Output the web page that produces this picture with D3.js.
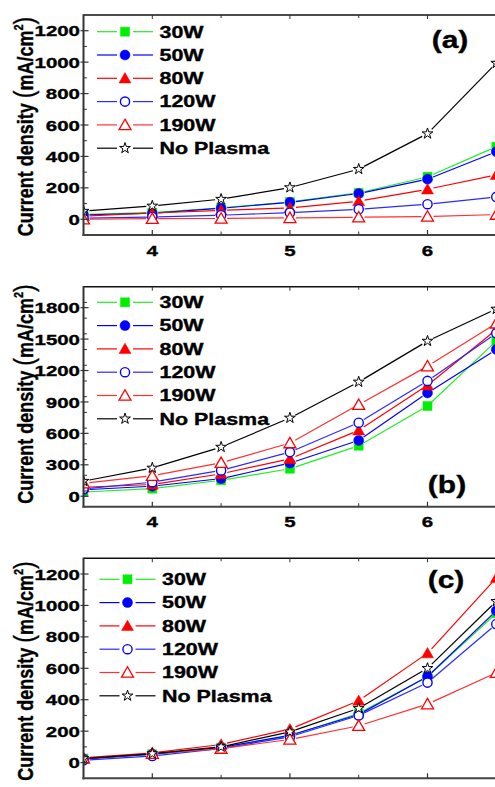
<!DOCTYPE html>
<html><head><meta charset="utf-8">
<script src="https://cdn.jsdelivr.net/npm/d3@7"></script>
<style>html,body{margin:0;padding:0;background:#fff;overflow:hidden}svg{display:block}</style>
</head><body>
<svg id="chart" width="495" height="787"></svg>
<script>
// ---- data ----
const xValues = [3.5, 4, 4.5, 5, 5.5, 6, 6.5];
const seriesNames = ["30W", "50W", "80W", "120W", "190W", "No Plasma"];
const xTickLabels = ["4", "5", "6"];
const panelLabels = ["(a)", "(b)", "(c)"];

const a30W = [30, 43, 72, 110, 168, 270, 462];
const a50W = [28, 38, 70, 108, 164, 255, 430];
const a80W = [20, 40, 57, 72, 115, 191, 283];
const a120W = [6, 15, 26, 42, 64, 96, 142];
const a190W = [0, 4, 5, 9, 13, 18, 30];
const aNoPlasma = [52, 85, 128, 202, 319, 545, 994];

const b30W = [40, 72, 152, 262, 482, 862, 1481];
const b50W = [61, 96, 168, 316, 533, 986, 1401];
const b80W = [86, 112, 214, 357, 629, 1059, 1590];
const b120W = [70, 134, 246, 421, 702, 1101, 1555];
const b190W = [124, 195, 319, 507, 874, 1241, 1650];
const bNoPlasma = [144, 270, 469, 747, 1091, 1481, 1787];

const c30W = [26, 53, 96, 170, 313, 547, 951];
const c50W = [23, 53, 96, 174, 306, 547, 966];
const c80W = [30, 62, 115, 213, 394, 696, 1175];
const c120W = [15, 42, 89, 164, 300, 509, 881];
const c190W = [26, 57, 89, 147, 234, 372, 572];
const cNoPlasma = [26, 57, 100, 196, 345, 600, 1026];

const yTicksAC = [0, 200, 400, 600, 800, 1000, 1200];
const yTicksB = [0, 300, 600, 900, 1200, 1500, 1800];

// ---- styles ----
const styles = [
  {line: "#22ee22", color: "#00ee00", shape: "square", fill: true},
  {line: "#0000ff", color: "#0000ff", shape: "circle", fill: true},
  {line: "#ff0000", color: "#ff0000", shape: "triangle", fill: true},
  {line: "#2a2aff", color: "#0000ff", shape: "circle", fill: false},
  {line: "#ff3030", color: "#ff0000", shape: "triangle", fill: false},
  {line: "#000000", color: "#000000", shape: "star", fill: false}
];

const panels = [
  {top: 15, bottom: 235, domain: [-100, 1300], ticks: yTicksAC, minor: 100,
   data: [a30W, a50W, a80W, a120W, a190W, aNoPlasma], label: panelLabels[0],
   labelPos: [450, 48], legendTop: 31.7, legendX: 97, titleC: 126.5},
  {top: 286.7, bottom: 506.7, domain: [-100, 2000], ticks: yTicksB, minor: 150,
   data: [b30W, b50W, b80W, b120W, b190W, bNoPlasma], label: panelLabels[1],
   labelPos: [447, 493], legendTop: 302.3, legendX: 97, titleC: 394},
  {top: 558.3, bottom: 778.3, domain: [-100, 1300], ticks: yTicksAC, minor: 100,
   data: [c30W, c50W, c80W, c120W, c190W, cNoPlasma], label: panelLabels[2],
   labelPos: [446, 588], legendTop: 579.3, legendX: 99.5, titleC: 671}
];

const svg = d3.select("#chart");
const LEFT = 83.5, RIGHT = 496.3;
const FONT = "'Liberation Sans', Arial, sans-serif";
const x = d3.scaleLinear().domain([3.5, 6.5]).range([LEFT, RIGHT]);

function markerPath(shape) {
  if (shape === "square") return d3.symbol(d3.symbolSquare, 81)();
  if (shape === "triangle") return d3.symbol(d3.symbolTriangle, 62)();
  if (shape === "star") return d3.symbol(d3.symbolStar, 36)();
  return null;
}
function drawMarker(g, st, cx, cy) {
  if (st.shape === "circle") {
    g.append("circle").attr("cx", cx).attr("cy", cy)
      .attr("r", st.fill ? 5 : 4.6)
      .attr("fill", st.fill ? st.color : "#fff")
      .attr("stroke", st.color).attr("stroke-width", st.fill ? 0.5 : 1.4);
  } else {
    let tf = `translate(${cx},${cy})`;
    if (st.shape === "triangle") tf += " translate(0,1.2)";
    g.append("path").attr("d", markerPath(st.shape)).attr("transform", tf)
      .attr("fill", st.fill ? st.color : "#fff")
      .attr("stroke", st.color)
      .attr("stroke-width", st.fill ? 0.5 : (st.shape === "star" ? 1 : 1.3))
      .attr("stroke-linejoin", "miter");
  }
}
function gapSegment(g, p1, p2, gap, color) {
  const dx = p2[0] - p1[0], dy = p2[1] - p1[1];
  const len = Math.hypot(dx, dy);
  if (len <= 2 * gap) return;
  const ux = dx / len, uy = dy / len;
  g.append("line")
    .attr("x1", p1[0] + ux * gap).attr("y1", p1[1] + uy * gap)
    .attr("x2", p2[0] - ux * gap).attr("y2", p2[1] - uy * gap)
    .attr("stroke", color).attr("stroke-width", 1.2);
}
function sText(g, str, tx, ty, size, sx, anchor) {
  return g.append("text").attr("transform", `translate(${tx},${ty}) scale(${sx},1)`)
    .attr("font-family", FONT).attr("font-weight", "bold").attr("font-size", size)
    .attr("text-anchor", anchor).attr("fill", "#000")
    .attr("stroke", "#000").attr("stroke-width", 0.35).text(str);
}

panels.forEach((p, pi) => {
  const y = d3.scaleLinear().domain(p.domain).range([p.bottom, p.top]);
  const g = svg.append("g");
  const clipId = "clip" + pi;
  svg.append("clipPath").attr("id", clipId).append("rect")
    .attr("x", LEFT).attr("y", p.top).attr("width", 600).attr("height", p.bottom - p.top);

  // data
  const dg = g.append("g").attr("clip-path", `url(#${clipId})`);
  p.data.forEach((vals, si) => {
    const st = styles[si];
    const pts = vals.map((v, i) => [x(xValues[i]), y(v)]);
    for (let i = 0; i < pts.length - 1; i++) gapSegment(dg, pts[i], pts[i + 1], 6, st.line);
    pts.forEach(pt => drawMarker(dg, st, pt[0], pt[1]));
  });

  // axes
  const ax = g.append("g");
  ax.append("line").attr("x1", LEFT).attr("x2", 520).attr("y1", p.top).attr("y2", p.top)
    .attr("stroke", "#111").attr("stroke-width", 1.4);
  ax.append("line").attr("x1", LEFT).attr("x2", LEFT).attr("y1", p.top - 0.7).attr("y2", p.bottom + 1)
    .attr("stroke", "#333").attr("stroke-width", 2);
  ax.append("line").attr("x1", LEFT - 1).attr("x2", 520).attr("y1", p.bottom).attr("y2", p.bottom)
    .attr("stroke", "#444").attr("stroke-width", 2);

  // y ticks
  const minorVals = d3.range(p.domain[0] + p.minor, p.domain[1], p.minor).filter(v => !p.ticks.includes(v));
  minorVals.forEach(v => ax.append("line").attr("x1", LEFT).attr("x2", LEFT + 3.5)
    .attr("y1", y(v)).attr("y2", y(v)).attr("stroke", "#333").attr("stroke-width", 1));
  p.ticks.forEach(v => {
    ax.append("line").attr("x1", LEFT - 3).attr("x2", LEFT + 5)
      .attr("y1", y(v)).attr("y2", y(v)).attr("stroke", "#333").attr("stroke-width", 1.2);
    sText(ax, String(v), 80, y(v) + 5.6, 15.5, 1.32, "end");
  });

  // x ticks
  [4, 5, 6].forEach((v, i) => {
    ax.append("line").attr("x1", x(v)).attr("x2", x(v)).attr("y1", p.bottom).attr("y2", p.bottom - 5)
      .attr("stroke", "#333").attr("stroke-width", 1.2);
    ax.append("line").attr("x1", x(v)).attr("x2", x(v)).attr("y1", p.top).attr("y2", p.top + 4)
      .attr("stroke", "#333").attr("stroke-width", 1);
    sText(ax, xTickLabels[i], x(v), p.bottom + 20.5, 15.5, 1.32, "middle");
  });
  [4.5, 5.5].forEach(v => {
    ax.append("line").attr("x1", x(v)).attr("x2", x(v)).attr("y1", p.bottom).attr("y2", p.bottom - 3.5)
      .attr("stroke", "#333").attr("stroke-width", 1);
    ax.append("line").attr("x1", x(v)).attr("x2", x(v)).attr("y1", p.top).attr("y2", p.top + 3)
      .attr("stroke", "#333").attr("stroke-width", 1);
  });

  // y title
  const t = g.append("text")
    .attr("transform", `translate(32.5,${p.titleC}) scale(1.22,1) rotate(-90)`)
    .attr("font-family", FONT).attr("font-weight", "bold").attr("font-size", 18)
    .attr("text-anchor", "middle").attr("fill", "#000")
    .attr("stroke", "#000").attr("stroke-width", 0.3);
  t.append("tspan").text("Current density ");
  t.append("tspan").attr("font-size", 23).attr("font-weight", "normal").text("(");
  t.append("tspan").text("mA/cm");
  t.append("tspan").attr("font-size", 11).attr("dy", -8).text("2");
  t.append("tspan").attr("font-size", 23).attr("font-weight", "normal").attr("dy", 8).text(")");

  // panel label
  sText(g, p.label, p.labelPos[0], p.labelPos[1], 24, 1.25, "middle");

  // legend
  const lg = g.append("g");
  seriesNames.forEach((name, si) => {
    const st = styles[si];
    const ly = p.legendTop + si * 23.3;
    const lx = p.legendX;
    lg.append("line").attr("x1", lx).attr("x2", lx + 20).attr("y1", ly).attr("y2", ly)
      .attr("stroke", st.line).attr("stroke-width", 1.2);
    lg.append("line").attr("x1", lx + 36).attr("x2", lx + 56).attr("y1", ly).attr("y2", ly)
      .attr("stroke", st.line).attr("stroke-width", 1.2);
    drawMarker(lg, st, lx + 28, ly);
    sText(lg, name, lx + 62.5, ly + 5.8, 16, 1.34, "start");
  });
});
</script>
</body></html>
